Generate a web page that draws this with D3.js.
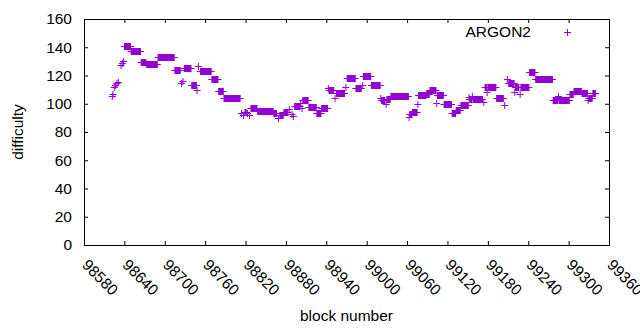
<!DOCTYPE html>
<html>
<head>
<meta charset="utf-8">
<script src="https://cdn.jsdelivr.net/npm/d3@7"></script>
<style>
  body { margin: 0; background: #fff; }
  text { font-family: "Liberation Sans", Arial, sans-serif; fill: #000; font-size: 15.5px; }
</style>
</head>
<body>
<div id="chart"></div>
<script>
// difficulty runs: first block, last block, difficulty
const runFirst = [98622,98623,98625,98627,98629,98631,98635,98637,98639,98640,98650,98665,98673,98690,98715,98725,98727,98729,98740,98748,
  98750,98753,98770,98780,98788,98814,98817,98819,98823,98826,98828,98838,98862,98869,98871,98877,98885,98889,98891,98893,
  98902,98904,98905,98914,98926,98933,98943,98944,98953,98955,98969,98971,98984,98994,98995,99007,99021,99022,99029,99030,
  99036,99063,99064,99068,99076,99077,99089,99094,99104,99105,99115,99127,99133,99140,99152,99153,99157,99158,99174,99176,
  99179,99180,99193,99205,99209,99211,99220,99221,99228,99229,99242,99251,99277,99285,99286,99302,99308,99320,99329,99330,
  99336];
const runLast = [98622,98623,98625,98627,98629,98631,98635,98637,98639,98649,98664,98672,98689,98714,98723,98725,98727,98739,98747,98748,
  98750,98769,98779,98787,98812,98814,98817,98821,98823,98826,98837,98861,98866,98869,98876,98883,98885,98889,98891,98901,
  98902,98904,98913,98925,98932,98942,98943,98951,98953,98967,98969,98983,98992,98994,99006,99020,99021,99027,99029,99035,
  99062,99063,99067,99075,99076,99088,99093,99103,99104,99114,99126,99132,99139,99151,99152,99156,99157,99172,99174,99178,
  99179,99192,99203,99205,99209,99219,99220,99226,99228,99241,99250,99276,99284,99285,99301,99307,99319,99328,99329,99335,
  99340];
const runDifficulty = [105.6,107.2,112,113.4,114.6,115.5,127.5,129,130.3,140.7,137.2,129.4,128,132.9,123.7,114.6,116.4,125.2,113.2,109.8,
  126.8,123.5,117.6,108.9,104,93.4,92.2,94.5,93.5,92.2,96.9,95.2,93.3,89.9,92.2,94,96.4,92.7,91,98.3,
  100.4,96.9,102.5,97.6,93.8,96.7,111.5,109.6,104,107.5,112.2,118.1,111,113.4,119.5,113.4,104.4,102.8,99.7,103.7,
  105.4,90.3,92.5,94.1,99.7,106.3,107.2,109.6,100.4,106.1,99.7,93.6,95.9,98.8,105,103.5,105.6,103.5,101.2,111.7,
  108.6,111.7,104.2,99.2,117.4,114.6,108.6,112.2,107,112,122.8,117.4,102.6,105.6,102.6,106.8,108.9,107.7,103,104,
  107.5];

const xTickValues = [98580,98640,98700,98760,98820,98880,98940,99000,99060,99120,99180,99240,99300,99360];
const yTickValues = [0,20,40,60,80,100,120,140,160];
const seriesName = "ARGON2";

const runs = runFirst.map((f, i) => ({ first: f, last: runLast[i], value: runDifficulty[i] }));

const W = 640, H = 330;
const margin = { top: 19, right: 31, bottom: 85, left: 84 };
const width = W - margin.left - margin.right,
      height = H - margin.top - margin.bottom;
const color = "#9400d3";
const arm = 3.5;

const svg = d3.select("#chart").append("svg")
  .attr("width", W).attr("height", H);
const g = svg.append("g")
  .attr("transform", `translate(${margin.left},${margin.top})`);

const x = d3.scaleLinear().domain([98580, 99360]).range([0, width]);
const y = d3.scaleLinear().domain([0, 160]).range([height, 0]);

// Points: consecutive "+" markers merge into a band with arms sticking out
const pts = g.append("g");
runs.forEach(r => {
  const x0 = x(r.first), x1 = x(r.last), yy = Math.round(y(r.value)) + 0.5;
  pts.append("rect")
    .attr("x", x0 - 0.5).attr("y", yy - arm)
    .attr("width", x1 - x0 + 1).attr("height", arm * 2)
    .attr("fill", color);
  pts.append("line")
    .attr("x1", x0 - arm).attr("x2", x1 + arm)
    .attr("y1", yy).attr("y2", yy)
    .attr("stroke", color).attr("stroke-width", 1);
});

// Axes with inward ticks on all four sides
const tick = 4;
const bottomAxis = d3.axisBottom(x).tickValues(xTickValues).tickSize(-tick).tickFormat("");
const topAxis = d3.axisTop(x).tickValues(xTickValues).tickSize(-tick).tickFormat("");
const leftAxis = d3.axisLeft(y).tickValues(yTickValues).tickSize(-tick).tickFormat("");
const rightAxis = d3.axisRight(y).tickValues(yTickValues).tickSize(-tick).tickFormat("");

[
  [bottomAxis, `translate(0,${height})`],
  [topAxis, "translate(0,0)"],
  [leftAxis, "translate(0,0)"],
  [rightAxis, `translate(${width},0)`]
].forEach(([ax, tr]) => {
  const a = g.append("g").attr("transform", tr).call(ax);
  a.select(".domain").remove();
  a.selectAll("line").attr("stroke", "#000");
});

g.append("rect")
  .attr("x", 0.5).attr("y", 0.5)
  .attr("width", width).attr("height", height)
  .attr("fill", "none").attr("stroke", "#000").attr("stroke-width", 1);

// Tick labels
g.selectAll(".ylab").data(yTickValues).enter().append("text")
  .attr("x", -12).attr("y", d => y(d))
  .attr("dy", "0.35em").attr("text-anchor", "end")
  .text(d => d);

g.selectAll(".xlab").data(xTickValues).enter().append("text")
  .attr("transform", d => `translate(${x(d) + 1},${height + 17}) rotate(45)`)
  .attr("dy", "0.35em").attr("text-anchor", "start")
  .text(d => d);

// Axis titles
svg.append("text")
  .attr("x", margin.left + width / 2).attr("y", 321)
  .attr("text-anchor", "middle")
  .text("block number");
svg.append("text")
  .attr("transform", `translate(23,${margin.top + height / 2}) rotate(-90)`)
  .attr("text-anchor", "middle")
  .text("difficulty");

// Legend
svg.append("text")
  .attr("x", 531).attr("y", 37)
  .attr("text-anchor", "end")
  .text(seriesName);
svg.append("path")
  .attr("d", `M${567.5 - arm},32.5H${567.5 + arm}M567.5,${32.5 - arm}V${32.5 + arm}`)
  .attr("stroke", color).attr("stroke-width", 1);
</script>
</body>
</html>
